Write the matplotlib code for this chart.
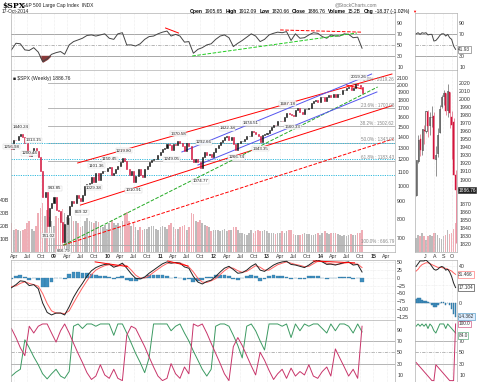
import numpy as np
import pandas as pd
import matplotlib
matplotlib.use('Agg')
import matplotlib.pyplot as plt
import matplotlib.dates as mdates

plt.rcParams['font.family'] = ['Liberation Sans', 'DejaVu Sans']

W, H = 480, 382

# ---- main chart data: $SPX, semi-monthly closes (Mar 2008 .. Oct 2014) ----
price_dates = pd.date_range('2008-03-15', '2014-10-15', freq='SMS')
closes = [
    1290, 1370, 1365, 1410, 1425, 1400, 1340, 1262, 1230, 1265, 1298, 1270, 1220, 1110, 930, 960, 760, 860, 890,
    927, 850, 840, 780, 683, 770, 820, 870, 900, 890, 940, 920, 900, 940, 1000, 1010, 1020, 1060, 1030, 1090, 1040, 1095, 1105, 1110,
    1130, 1140, 1075, 1090, 1120, 1150, 1180, 1210, 1190, 1120, 1080, 1110, 1030, 1070, 1120, 1080, 1060, 1120, 1145, 1175, 1195, 1200, 1200, 1240,
    1265, 1290, 1300, 1335, 1320, 1280, 1330, 1320, 1360, 1340, 1310, 1270, 1340, 1315, 1200, 1180, 1200, 1180, 1130, 1220, 1260, 1240, 1245, 1220,
    1265, 1300, 1320, 1350, 1370, 1400, 1410, 1370, 1400, 1330, 1280, 1340, 1360, 1360, 1380, 1410, 1410, 1460, 1450, 1430, 1410, 1355, 1415, 1430,
    1440, 1470, 1500, 1520, 1515, 1560, 1565, 1555, 1600, 1650, 1640, 1625, 1610, 1680, 1700, 1660, 1640, 1690, 1690, 1710, 1760, 1795, 1805, 1780,
    1840, 1840, 1790, 1840, 1860, 1840, 1880, 1840, 1880, 1880, 1925, 1935, 1960, 1975, 1925, 1955, 2005, 1995, 1970, 1886.76,
]
volume = [  # billions
    22, 17, 18, 17, 16, 17, 18, 22, 24, 18, 16, 20, 30, 34, 38, 28, 32, 27, 24,
    20, 28, 26, 30, 33, 30, 27, 26, 28, 24, 24, 22, 19, 20, 24, 26, 24, 23, 22, 24, 23, 20, 19, 21,
    18, 22, 25, 22, 21, 22, 20, 24, 30, 31, 24, 20, 22, 19, 17, 19, 17, 18, 18, 19, 20, 20, 18, 17,
    19, 20, 19, 18, 21, 22, 19, 18, 18, 19, 20, 21, 17, 19, 30, 29, 24, 23, 25, 22, 21, 20, 19, 16,
    17, 17, 17, 16, 17, 18, 16, 17, 17, 19, 19, 17, 15, 15, 14, 13, 15, 17, 15, 16, 17, 16, 16, 17,
    16, 15, 15, 15, 14, 15, 15, 16, 15, 16, 17, 17, 14, 13, 13, 13, 14, 15, 14, 14, 13, 13, 14, 15,
    13, 15, 16, 15, 14, 15, 15, 15, 14, 13, 12, 13, 12, 13, 14, 13, 13, 15, 15, 17,
]

# ---- monthly indicator readings (Mar 2008 .. Oct 2014) ----
ind_dates = pd.date_range('2008-03-01', '2014-10-01', freq='MS') + pd.Timedelta(days=14)
rsi = [
    41, 53, 52, 41, 40, 45, 37, 20, 25, 33,
    36, 38, 33, 50, 56, 59, 62, 67, 68, 66, 68, 70,
    62, 60, 70, 72, 50, 50, 48, 52, 60, 65, 66, 70,
    73, 75, 66, 69, 66, 55, 56, 35, 42, 45, 50, 52,
    60, 66, 68, 63, 47, 53, 58, 64, 70, 66, 56, 60,
    68, 71, 73, 72, 74, 58, 70, 62, 63, 68, 72, 71,
    65, 62, 68, 66, 66, 70, 69, 63, 64, 44,
]
macd = [
    -32, -22, -10, -12, -25, -22, -35, -80, -110, -118,
    -112, -112, -118, -92, -62, -38, -18, 5, 22, 32, 38, 42,
    43, 33, 38, 46, 30, 12, -2, -4, 2, 14, 24, 34,
    44, 50, 46, 48, 46, 34, 30, 4, -14, -20, -12, -8,
    4, 18, 30, 36, 26, 14, 16, 24, 36, 44, 24, 20,
    30, 40, 46, 50, 52, 42, 40, 36, 32, 40, 50, 56,
    50, 42, 43, 40, 44, 48, 50, 40, 42, 18,
]
signal = [
    -28, -26, -18, -13, -18, -22, -27, -50, -82, -105,
    -112, -112, -114, -105, -80, -55, -32, -10, 10, 24, 32, 38,
    41, 38, 36, 41, 38, 24, 8, -1, -1, 6, 17, 27,
    37, 45, 47, 47, 47, 41, 34, 18, -2, -14, -15, -10,
    -3, 10, 22, 32, 30, 22, 17, 20, 29, 38, 33, 24,
    24, 33, 41, 46, 50, 46, 42, 39, 35, 36, 44, 52,
    52, 46, 44, 42, 43, 46, 48, 44, 43, 32,
]
aroon_up = [
    8, 15, 20, 72, 58, 42, 28, 12, 3, 12,
    20, 8, 4, 16, 96, 100, 92, 100, 100, 96, 100, 100,
    100, 80, 100, 100, 84, 66, 48, 32, 14, 40, 100, 100,
    100, 100, 88, 96, 100, 84, 70, 52, 36, 20, 8, 20,
    96, 100, 100, 96, 80, 62, 40, 96, 100, 88, 70, 54,
    100, 100, 100, 96, 100, 76, 100, 88, 100, 96, 100, 100,
    92, 84, 100, 88, 100, 100, 96, 84, 100, 86,
]
aroon_down = [
    92, 76, 58, 44, 96, 84, 96, 100, 100, 84,
    68, 88, 100, 84, 66, 48, 32, 14, 2, 8, 28, 10,
    4, 20, 4, 0, 80, 96, 92, 76, 60, 42, 24, 8,
    0, 4, 30, 12, 4, 24, 12, 100, 96, 100, 84, 66,
    48, 30, 12, 0, 60, 76, 62, 44, 26, 10, 50, 36,
    18, 2, 12, 20, 4, 22, 8, 16, 10, 28, 8, 4,
    16, 24, 8, 56, 40, 24, 8, 20, 4, 96,
]

# ---- side panel: weekly, 30-May-2014 .. 17-Oct-2014 ----
side_dates = pd.date_range('2014-05-30', '2014-10-17', freq='W-FRI') - pd.Timedelta(days=2)
s_open = [1881, 1923, 1950, 1937, 1962, 1960, 1984, 1968, 1978, 1979, 1926, 1933, 1959, 1991, 2004, 2007, 1986, 2009, 1978, 1971, 1905]
s_high = [1924, 1955, 1956, 1963, 1968, 1985, 1986, 1984, 1991, 1984, 1942, 1964, 1993, 2005, 2011, 2007, 2019, 2009, 1985, 1977, 1912]
s_low = [1880, 1920, 1929, 1930, 1944, 1958, 1953, 1955, 1965, 1925, 1904, 1928, 1958, 1989, 1992, 1980, 1978, 1964, 1926, 1905, 1821]
s_close = [1924, 1949, 1937, 1963, 1960, 1985, 1967, 1978, 1978, 1925, 1931, 1955, 1988, 2003, 2007, 1985, 2010, 1982, 1968, 1906, 1886.76]
s_volume = [11, 13, 12, 15, 12, 9, 12, 13, 12, 15, 15, 13, 11, 10, 12, 13, 17, 14, 15, 18, 22]
s_rsi = [70, 72, 69, 72, 71, 72, 68, 69, 69, 57, 58, 62, 67, 70, 70, 66, 69, 63, 60, 48, 41.93]
s_macd = [40, 43, 46, 46, 46, 47, 45, 43, 40, 37, 36, 37, 39, 40, 39, 36, 37, 34, 29, 22, 17.104]
s_signal = [35, 37, 40, 42, 43, 44, 44, 43, 42, 41, 40, 39, 39, 39, 38, 38, 37, 36, 35, 33, 31.466]
s_aroon_up = [96, 100, 96, 100, 96, 100, 92, 100, 96, 88, 84, 92, 100, 100, 100, 92, 100, 96, 92, 88, 84]
s_aroon_down = [32, 28, 24, 20, 16, 12, 8, 4, 0, 0, 28, 24, 20, 16, 12, 8, 4, 0, 0, 0, 100]

# ---- annotations ----
pivots = [
    ('1440.24', '2008-05-19', 1440.24, 1), ('1313.15', '2008-08-11', 1313.15, 1),
    ('1256.98', '2008-03-17', 1256.98, 1), ('1200.44', '2008-07-15', 1200.44, 1),
    ('943.85', '2009-01-06', 943.85, 1), ('741.02', '2008-11-21', 741.02, -1),
    ('666.79', '2009-03-06', 666.79, -1), ('869.32', '2009-07-10', 869.32, -1),
    ('1029.38', '2009-10-02', 1029.38, -1), ('1101.36', '2009-10-21', 1101.36, 1),
    ('1150.45', '2010-01-19', 1150.45, 1), ('1219.80', '2010-04-26', 1219.80, 1),
    ('1010.91', '2010-07-01', 1010.91, -1), ('1249.05', '2011-03-16', 1249.05, -1),
    ('1370.58', '2011-05-02', 1370.58, 1), ('1074.77', '2011-10-04', 1074.77, -1),
    ('1292.66', '2011-10-27', 1292.66, 1), ('1422.38', '2012-04-02', 1422.38, 1),
    ('1266.74', '2012-06-04', 1266.74, -1), ('1474.51', '2012-09-14', 1474.51, 1),
    ('1343.35', '2012-11-16', 1343.35, -1), ('1687.18', '2013-05-22', 1687.18, 1),
    ('1560.33', '2013-06-24', 1560.33, -1), ('2019.26', '2014-09-19', 2019.26, 1),
]
fib_pcts = ['0.0%', '23.6%', '38.2%', '50.0%', '61.8%', '100.0%']
fib_levels = [2019.26, 1700.08, 1502.62, 1343.03, 1183.43, 666.79]
cyan_levels = [1343.03, 1200.44, 1074.77]
price_lines = [  # (start, end, color, style)
    (('2009-06-12', 1170), ('2015-05-08', 2152), 'red', '-'),
    (('2009-07-01', 877), ('2015-05-08', 1732), 'red', '-'),
    (('2009-03-06', 666.79), ('2015-05-15', 1379), 'red', '--'),
    (('2009-03-06', 666.79), ('2015-01-30', 1969), '#22aa22', '--'),
    (('2011-05-28', 1262), ('2014-12-20', 2152), '#5555ee', '-'),
    (('2011-09-15', 1154), ('2015-01-25', 1903), '#5555ee', '-'),
    (('2014-07-01', 1995), ('2014-10-17', 1942), 'red', '-'),
]
rsi_lines = [
    (('2011-02-05', 80.5), ('2011-05-05', 71.5), 'red', '-'),
    (('2011-08-07', 30), ('2014-09-10', 71.5), '#22cc22', '--'),
    (('2013-04-01', 77), ('2014-10-17', 73), 'red', '--'),
]
macd_lines = [
    (('2009-10-10', 50), ('2010-05-20', 35), 'red', '-'),
    (('2011-02-20', 53), ('2011-07-10', 37), 'red', '-'),
    (('2013-11-15', 53), ('2014-08-25', 47), 'red', '-'),
]

# ---------------------------------------------------------------------------
def rect(x0, x1, row):
    y0, y1 = row
    return [x0 / W, 1 - y1 / H, (x1 - x0) / W, (y1 - y0) / H]


def d(s):
    return mdates.date2num(pd.Timestamp(s))


def base_style(ax, xlim, xticks):
    ax.set_xlim(*xlim)
    ax.set_xticks(xticks)
    ax.yaxis.tick_right()
    ax.tick_params(axis='both', length=0, pad=1.5, labelsize=3.8, colors='#333')
    ax.tick_params(axis='x', labelbottom=False)
    for s in ax.spines.values():
        s.set_color('#b0b0b0')
        s.set_linewidth(0.5)
    ax.grid(True, axis='x', color='#dddddd', lw=0.4, ls=(0, (1, 1.5)))


def draw_lines(ax, lines):
    for (a, pa), (b, pb), c, ls in lines:
        ax.plot([d(a), d(b)], [pa, pb], color=c, lw=0.7, ls=ls, zorder=4)


def value_box(ax, frac_y, text, ec, fc='white', tc='#333'):
    ax.text(1.03, frac_y, text, transform=ax.transAxes, fontsize=3.4, va='center', ha='left', color=tc,
            zorder=8, clip_on=False, bbox=dict(boxstyle='square,pad=0.15', fc=fc, ec=ec, lw=0.4))


closes = np.array(closes, dtype=float)
opens = np.concatenate([[1330.0], closes[:-1]])
px = mdates.date2num(price_dates)
ix = mdates.date2num(ind_dates)
sx = mdates.date2num(side_dates)
rsi = np.array(rsi, float)
macd = np.array(macd, float)
signal = np.array(signal, float)

fig = plt.figure(figsize=(W / 100, H / 100), dpi=100)

MX0, MX1, SX0, SX1 = 11, 395, 415, 457
rows = {'rsi': (13, 70), 'price': (70, 252), 'macd': (260, 320), 'aroon': (320, 384)}
main_xlim = (d('2008-03-12'), d('2015-05-29'))
side_xlim = (d('2014-05-24'), d('2014-10-20'))
qticks = pd.date_range('2008-04-01', '2015-04-01', freq='QS-JAN')
qnum = mdates.date2num(qticks)
qlabels = [t.strftime('%y') if t.month == 1 else t.strftime('%b') for t in qticks]
mticks = pd.date_range('2014-07-01', '2014-10-01', freq='MS')
snum = mdates.date2num(mticks)
slabels = [t.strftime('%b')[0] for t in mticks]

# ---- header ----
fig.text(2 / W, 1 - 6 / H, '$SPX', fontsize=5.5, fontweight='bold', family='DejaVu Serif', va='center')
fig.text(22 / W, 1 - 6 / H, 'S&P 500 Large Cap Index  INDX', fontsize=3.5, va='center', color='#222')
fig.text(2 / W, 1 - 11.5 / H, '17-Oct-2014', fontsize=3.5, va='center', color='#222')
fig.text(335 / W, 1 - 5 / H, '@StockCharts.com', fontsize=3.5, va='center', color='#777')
renderer = fig.canvas.get_renderer()
xcur = 190
for label, val in [('Open', '1905.65'), ('High', '1912.09'), ('Low', '1820.66'), ('Close', '1886.76'),
                   ('Volume', '15.2B'), ('Chg', '-18.37 (-1.02%)')]:
    t = fig.text(xcur / W, 1 - 11.5 / H, label, fontsize=3.6, fontweight='bold', va='center')
    xcur = t.get_window_extent(renderer).x1 + 1.5
    t = fig.text(xcur / W, 1 - 11.5 / H, val, fontsize=3.6, va='center')
    xcur = t.get_window_extent(renderer).x1 + 3
fig.text(xcur / W, 1 - 11.5 / H, '\u25bc', fontsize=3, va='center', color='red')

# ---- RSI panels ----
for side in (False, True):
    x0, x1 = (SX0, SX1) if side else (MX0, MX1)
    ax = fig.add_axes(rect(x0, x1, rows['rsi']))
    base_style(ax, side_xlim if side else main_xlim, snum if side else qnum)
    ax.set_ylim(4.7, 107.6)
    ax.set_yticks([10, 30, 50, 70, 90])
    for lvl, ls in [(70, '-'), (30, '-'), (50, (0, (4, 1.5, 1, 1.5)))]:
        ax.axhline(lvl, color='#999' if lvl != 50 else '#aaa', lw=0.6, ls=ls, zorder=1)
    if side:
        ax.plot(sx, s_rsi, color='#444', lw=0.7)
        value_box(ax, (s_rsi[-1] - 4.7) / 102.9, '%.2f' % s_rsi[-1], '#666')
        ax.set_yticks([10, 30, 70, 90])
    else:
        ax.plot(ix, rsi, color='#444', lw=0.7)
        ax.fill_between(ix, rsi, 30, where=rsi < 30, interpolate=True, color='#8a3b3b')
        draw_lines(ax, rsi_lines)

# ---- price panels ----
for side in (False, True):
    x0, x1 = (SX0, SX1) if side else (MX0, MX1)
    vax = fig.add_axes(rect(x0, x1, rows['price']))
    vax.set_zorder(1)
    ax = fig.add_axes(rect(x0, x1, rows['price']), sharex=vax)
    ax.set_zorder(2)
    ax.patch.set_visible(False)
    base_style(ax, side_xlim if side else main_xlim, snum if side else qnum)
    for s in vax.spines.values():
        s.set_visible(False)
    vax.tick_params(axis='both', length=0, labelsize=3.8, colors='#333', pad=1.5)
    vax.tick_params(axis='x', labelbottom=False)
    ax.tick_params(axis='x', labelbottom=True, pad=1.2)
    if side:
        ax.set_xticklabels(slabels)
        ax.set_ylim(1810, 2036)
        sticks = np.arange(1820, 2021, 10)
        ax.set_yticks(sticks, labels=['' if t in (1880, 1890) else str(t) for t in sticks])
        so, sc = np.array(s_open), np.array(s_close)
        up = sc >= so
        vcol = ['#b4b4b4' if c >= p else '#eea5ae' for c, p in zip(s_close, [s_close[0]] + s_close[:-1])]
        vax.bar(sx, s_volume, width=4.5, color=vcol, alpha=0.9)
        vax.set_ylim(0, 140)
        vax.set_yticks([])
        ax.vlines(sx, s_low, s_high, color=np.where(up, '#666', '#e0607a'), lw=0.5, zorder=3)
        ax.bar(sx[up], sc[up] - so[up], bottom=so[up], width=3.6, color='white', edgecolor='#222', lw=0.4, zorder=4)
        ax.bar(sx[~up], so[~up] - sc[~up], bottom=sc[~up], width=3.6, color='#d4143c', edgecolor='#d4143c', lw=0.3, zorder=4)
        value_box(ax, (1886.76 - 1810) / 226, '1886.76', '#222', fc='#222', tc='white')
    else:
        ax.set_xticklabels(qlabels)
        for lab, t in zip(ax.get_xticklabels(), qticks):
            if t.month == 1:
                lab.set_fontweight('bold')
        ax.set_yscale('log')
        ax.set_ylim(636, 2212)
        ticks = list(range(700, 2101, 100))
        ax.set_yticks(ticks, labels=[str(t) for t in ticks])
        ax.minorticks_off()
        vcol = ['#b4b4b4' if c >= o else '#eea5ae' for c, o in zip(closes, opens)]
        vax.bar(px, volume, width=11, color=vcol, alpha=0.9)
        vax.set_ylim(0, 140)
        vax.set_yticks([10, 20, 30, 40], labels=['10B', '20B', '30B', '40B'])
        up = closes >= opens
        ax.bar(px[up], closes[up] - opens[up], bottom=opens[up], width=7, color='#111', edgecolor='#111', lw=0.4, zorder=5)
        ax.bar(px[~up], opens[~up] - closes[~up], bottom=closes[~up], width=7, color='#d4143c', edgecolor='#d4143c', lw=0.4, zorder=5)
        for pct, lvl in zip(fib_pcts, fib_levels):
            ax.plot([d('2008-11-20'), main_xlim[1]], [lvl, lvl], color='#aaa', lw=0.6, zorder=2)
            ax.text(d('2015-05-22'), lvl * 1.006, '%s : %.2f' % (pct, lvl), fontsize=3.3, color='#888',
                    ha='right', va='bottom', zorder=6)
        for lvl in cyan_levels:
            ax.axhline(lvl, color='#33bbdd', lw=0.7, ls=(0, (1.2, 1.2)), zorder=2)
        draw_lines(ax, price_lines)
        for txt, day, val, sgn in pivots:
            ax.annotate(txt, (d(day), val), xytext=(0, 4 * sgn), textcoords='offset pixels',
                        ha='center', va='bottom' if sgn > 0 else 'top', fontsize=3.2, color='#222', zorder=7,
                        bbox=dict(boxstyle='square,pad=0.1', fc='white', ec='#ccc', lw=0.3, alpha=0.9))
        ax.text(0.006, 0.955, '\u25a0 $SPX (Weekly) 1886.76', transform=ax.transAxes, fontsize=3.6,
                va='center', zorder=7, color='#222')

# ---- MACD panels ----
for side in (False, True):
    x0, x1 = (SX0, SX1) if side else (MX0, MX1)
    ax = fig.add_axes(rect(x0, x1, rows['macd']))
    base_style(ax, side_xlim if side else main_xlim, snum if side else qnum)
    ax.grid(True, axis='y', color='#dddddd', lw=0.4, ls=(0, (1, 1.5)))
    if side:
        lo, hi = -18, 47
        ax.set_ylim(lo, hi)
        ax.set_yticks([0, 20, 40], labels=['0', '', '40'])
        hist = np.array(s_macd) - np.array(s_signal)
        ax.bar(sx, hist, width=5, color='#3f8fbf', edgecolor='#2a6f9a', lw=0.3, zorder=2)
        ax.plot(sx, s_signal, color='#ff6060', lw=0.7, zorder=3)
        ax.plot(sx, s_macd, color='#222', lw=0.7, zorder=4)
        value_box(ax, (s_signal[-1] - lo) / (hi - lo), '%.3f' % s_signal[-1], '#ff6060')
        value_box(ax, (s_macd[-1] - lo) / (hi - lo), '%.3f' % s_macd[-1], '#222')
        value_box(ax, (hist[-1] - lo) / (hi - lo), '%.3f' % hist[-1], '#3f8fbf', fc='#ddeeff')
    else:
        ax.set_ylim(-134, 56)
        ax.set_yticks([-125, -100, -75, -50, -25, 0, 25, 50])
        ax.bar(ix, macd - signal, width=26, color='#3f8fbf', edgecolor='#2a6f9a', lw=0.2, zorder=2)
        ax.plot(ix, signal, color='#ff6060', lw=0.7, zorder=3)
        ax.plot(ix, macd, color='#222', lw=0.7, zorder=4)
        draw_lines(ax, macd_lines)

# ---- Aroon panels ----
for side in (False, True):
    x0, x1 = (SX0, SX1) if side else (MX0, MX1)
    ax = fig.add_axes(rect(x0, x1, rows['aroon']))
    base_style(ax, side_xlim if side else main_xlim, snum if side else qnum)
    lo, hi = -6, 107
    ax.set_ylim(lo, hi)
    ax.set_yticks([10, 30, 50, 70, 90])
    for lvl, ls in [(70, '-'), (30, '-'), (50, (0, (4, 1.5, 1, 1.5)))]:
        ax.axhline(lvl, color='#aaa', lw=0.6, ls=ls, zorder=1)
    if side:
        ax.set_yticks([10, 30, 50, 70])
        ax.plot(sx, s_aroon_up, color='#3c9a62', lw=0.7)
        ax.plot(sx, s_aroon_down, color='#c8356a', lw=0.7)
        value_box(ax, (s_aroon_down[-1] - lo) / (hi - lo), '%.1f' % s_aroon_down[-1], '#c8356a')
        value_box(ax, (s_aroon_up[-1] - lo) / (hi - lo) - 0.04, '%.1f' % s_aroon_up[-1], '#3c9a62')
    else:
        ax.plot(ix, aroon_up, color='#3c9a62', lw=0.7)
        ax.plot(ix, aroon_down, color='#c8356a', lw=0.7)

fig.savefig('out.png', dpi=100)
